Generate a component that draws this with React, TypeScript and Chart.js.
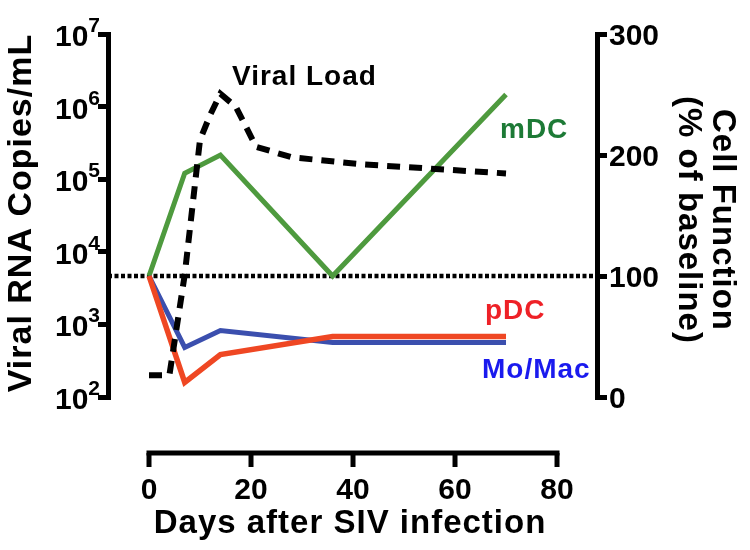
import React, { useEffect, useRef } from "react";
import { Chart, registerables } from "chart.js";
Chart.register(...registerables);

// ---- data ----
const CELL_DAYS = [0, 7, 14, 36, 70];
const MDC = [100, 185, 200, 100, 250];
const PDC = [100, 12, 35, 50, 50];
const MOMAC = [100, 41, 55, 45, 45];
const VL_DAYS = [0, 4, 7, 10, 12, 14, 17, 21, 28, 42, 70];
const VIRAL_LOAD = [200, 200, 4800, 350000, 770000, 1500000, 1000000, 280000, 200000, 160000, 120000];
const BASELINE = 100;
const X_TICKS = [0, 20, 40, 60, 80];
const LEFT_EXPONENTS = [2, 3, 4, 5, 6, 7];
const RIGHT_TICKS = [0, 100, 200, 300];
const X_MIN = -8.04;
const X_MAX = 87.84;

const FONT = '"Liberation Sans", Arial, Helvetica, sans-serif';

const pts = (xs: number[], ys: number[]) => xs.map((x, i) => ({ x, y: ys[i] }));

const overlay = {
  id: "overlay",
  afterDraw(chart: any) {
    const ctx = chart.ctx as CanvasRenderingContext2D;
    const xs = chart.scales.x;
    const yl = chart.scales.y;
    const yr = chart.scales.y2;
    const area = chart.chartArea;
    ctx.save();
    ctx.fillStyle = "#000";
    ctx.strokeStyle = "#000";
    (ctx as any).letterSpacing = "0px";

    // left tick labels 10^n
    ctx.textBaseline = "alphabetic";
    for (const e of LEFT_EXPONENTS) {
      const py = yl.getPixelForValue(Math.pow(10, e));
      const xr = area.left - 8;
      ctx.textAlign = "right";
      ctx.font = `bold 21px ${FONT}`;
      const ew = ctx.measureText(String(e)).width;
      ctx.fillText(String(e), xr, py - 2);
      ctx.font = `bold 30px ${FONT}`;
      ctx.fillText("10", xr - ew, py + 12);
    }

    // right tick labels
    ctx.textAlign = "left";
    ctx.font = `bold 30px ${FONT}`;
    for (const v of RIGHT_TICKS) {
      const py = yr.getPixelForValue(v);
      ctx.fillText(String(v), area.right + 12, py + 11);
    }

    // detached x axis
    const axisY = 453;
    const x0 = xs.getPixelForValue(X_TICKS[0]);
    const x1 = xs.getPixelForValue(X_TICKS[X_TICKS.length - 1]);
    ctx.lineWidth = 5;
    ctx.lineCap = "butt";
    ctx.beginPath();
    ctx.moveTo(x0 - 2.5, axisY);
    ctx.lineTo(x1 + 2.5, axisY);
    ctx.stroke();
    ctx.textAlign = "center";
    for (const t of X_TICKS) {
      const px = xs.getPixelForValue(t);
      ctx.beginPath();
      ctx.moveTo(px, axisY);
      ctx.lineTo(px, axisY + 14);
      ctx.stroke();
      ctx.fillText(String(t), px, 499);
    }

    // axis titles
    (ctx as any).letterSpacing = "1px";
    ctx.font = `bold 33px ${FONT}`;
    ctx.textAlign = "center";
    ctx.fillText("Days after SIV infection", (x0 + x1) / 2 - 3, 533);

    ctx.save();
    ctx.font = `bold 34px ${FONT}`;
    ctx.translate(31, 213);
    ctx.rotate(-Math.PI / 2);
    ctx.fillText("Viral RNA Copies/mL", 0, 0);
    ctx.restore();

    ctx.save();
    ctx.font = `bold 33px ${FONT}`;
    ctx.translate(713, 220);
    ctx.rotate(Math.PI / 2);
    ctx.fillText("Cell Function", 0, 0);
    ctx.restore();

    ctx.save();
    ctx.font = `bold 33px ${FONT}`;
    ctx.translate(679, 220);
    ctx.rotate(Math.PI / 2);
    ctx.fillText("(% of baseline)", 0, 0);
    ctx.restore();

    // series annotations
    ctx.font = `bold 28px ${FONT}`;
    ctx.textAlign = "left";
    ctx.fillStyle = "#000";
    ctx.fillText("Viral Load", 232, 85);
    ctx.fillStyle = "#1d7a36";
    ctx.fillText("mDC", 500, 138);
    ctx.fillStyle = "#ee2127";
    ctx.fillText("pDC", 485, 319);
    ctx.fillStyle = "#1a1aee";
    ctx.fillText("Mo/Mac", 482, 378);

    ctx.restore();
  },
};

export default function App() {
  const ref = useRef<HTMLCanvasElement>(null);
  useEffect(() => {
    document.body.style.margin = "0";
    const chart = new Chart(ref.current as HTMLCanvasElement, {
      type: "line",
      data: {
        datasets: [
          {
            label: "Baseline",
            data: [
              { x: X_MIN, y: BASELINE },
              { x: X_MAX, y: BASELINE },
            ],
            yAxisID: "y2",
            borderColor: "#000",
            borderWidth: 4.5,
            borderDash: [4, 2.5],
            borderCapStyle: "butt",
            pointRadius: 0,
            order: 5,
          },
          {
            label: "mDC",
            data: pts(CELL_DAYS, MDC),
            yAxisID: "y2",
            borderColor: "#4e9a3e",
            borderWidth: 5,
            pointRadius: 0,
            order: 4,
          },
          {
            label: "Mo/Mac",
            data: pts(CELL_DAYS, MOMAC),
            yAxisID: "y2",
            borderColor: "#3b4fae",
            borderWidth: 5,
            pointRadius: 0,
            order: 3,
          },
          {
            label: "pDC",
            data: pts(CELL_DAYS, PDC),
            yAxisID: "y2",
            borderColor: "#ef4723",
            borderWidth: 5.5,
            pointRadius: 0,
            order: 2,
          },
          {
            label: "Viral Load",
            data: pts(VL_DAYS, VIRAL_LOAD),
            yAxisID: "y",
            borderColor: "#000",
            borderWidth: 6,
            borderDash: [13, 9],
            borderCapStyle: "butt",
            pointRadius: 0,
            order: 1,
          },
        ],
      },
      options: {
        responsive: false,
        devicePixelRatio: 1,
        animation: false,
        events: [],
        layout: { padding: { top: 34, bottom: 153, left: 0, right: 0 } },
        plugins: { legend: { display: false }, tooltip: { enabled: false }, title: { display: false } },
        scales: {
          x: { type: "linear", display: false, min: X_MIN, max: X_MAX },
          y: {
            type: "logarithmic",
            position: "left",
            min: 100,
            max: 1e7,
            afterBuildTicks: (scale: any) => {
              scale.ticks = LEFT_EXPONENTS.map((e) => ({ value: Math.pow(10, e) }));
            },
            afterFit: (scale: any) => {
              scale.width = 108;
            },
            ticks: { display: false },
            border: { display: true, color: "#000", width: 5 },
            grid: { display: true, drawOnChartArea: false, drawTicks: true, tickLength: 10, color: "#000", lineWidth: 5 },
          },
          y2: {
            type: "linear",
            position: "right",
            min: 0,
            max: 300,
            afterBuildTicks: (scale: any) => {
              scale.ticks = RIGHT_TICKS.map((v) => ({ value: v }));
            },
            afterFit: (scale: any) => {
              scale.width = 153;
            },
            ticks: { display: false },
            border: { display: true, color: "#000", width: 5 },
            grid: { display: true, drawOnChartArea: false, drawTicks: true, tickLength: 10, color: "#000", lineWidth: 5 },
          },
        },
      } as any,
      plugins: [overlay],
    });
    return () => chart.destroy();
  }, []);
  return (
    <div style={{ width: 750, height: 550 }}>
      <canvas ref={ref} width={750} height={550} style={{ display: "block", width: 750, height: 550 }} />
    </div>
  );
}
